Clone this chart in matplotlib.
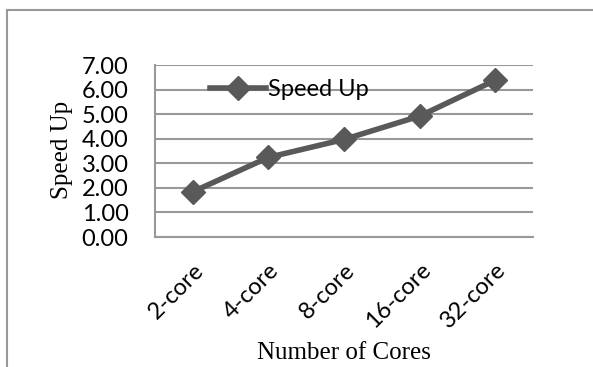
import matplotlib.pyplot as plt
from matplotlib.lines import Line2D

# --- data ---
categories = ['2-core', '4-core', '8-core', '16-core', '32-core']
speed_up = [1.84, 3.24, 3.97, 4.92, 6.38]
y_ticks = [0, 1, 2, 3, 4, 5, 6, 7]

fig = plt.figure(figsize=(5.93, 3.67), dpi=100)
# outer chart frame (only top and left edges visible)
fig.add_artist(Line2D([7 / 593, 7 / 593], [0, 1 - 10 / 367], color='#999999', lw=1.5))
fig.add_artist(Line2D([7 / 593, 1], [1 - 10 / 367, 1 - 10 / 367], color='#999999', lw=1.5))

ax = fig.add_axes([155 / 593, 1 - 237 / 367, 378 / 593, 172 / 367])
x = list(range(len(categories)))
ax.plot(x, speed_up, color='#595959', lw=4, marker='D', markersize=12,
        label='Speed Up', zorder=3)

ax.set_xlim(-0.5, len(categories) - 0.5)
ax.set_ylim(0, 7)
ax.set_yticks(y_ticks)
ax.set_yticklabels([f'{v:.2f}' for v in y_ticks], fontfamily='Lato', fontsize=17)
ax.set_xticks(x)
ax.set_xticklabels(categories, rotation=45, ha='right', rotation_mode='anchor',
                   fontfamily='Lato', fontsize=17)
ax.tick_params(length=0)
ax.tick_params(axis='y', pad=19)
ax.tick_params(axis='x', pad=16)

ax.grid(axis='y', color='#999999', lw=1.5)
ax.set_axisbelow(True)
for s in ['top', 'right']:
    ax.spines[s].set_visible(False)
for s in ['left', 'bottom']:
    ax.spines[s].set_color('#999999')
    ax.spines[s].set_linewidth(1.5)

# axis titles placed like the original chart
fig.text(62 / 593, 1 - 150 / 367, 'Speed Up', rotation=90, ha='center', va='center',
         fontfamily='Liberation Serif', fontsize=18)
fig.text(344 / 593, 1 - 353 / 367, 'Number of Cores', ha='center', va='center',
         fontfamily='Liberation Serif', fontsize=18)

leg = ax.legend(loc='center left', bbox_to_anchor=(0.145, 6 / 7), frameon=False,
                prop={'family': 'Lato', 'size': 17}, handlelength=2.4,
                handletextpad=0.05, borderpad=0, borderaxespad=0)

fig.savefig('out.png', dpi=100)
